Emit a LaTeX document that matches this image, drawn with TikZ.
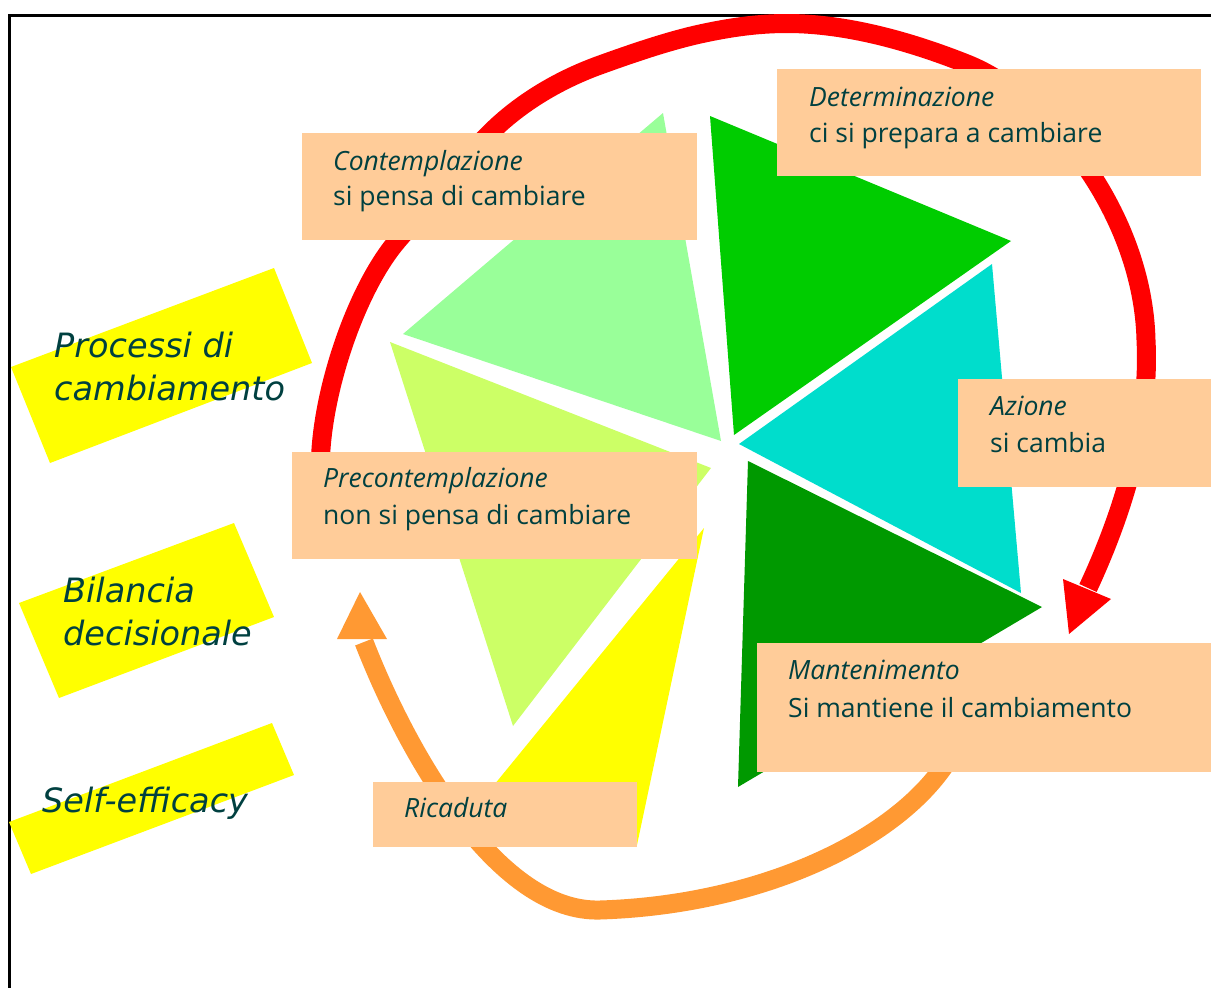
\documentclass[tikz,border=0pt]{standalone}
\usepackage{fontspec}
\setmainfont{Open Sans}
\newfontfamily\labfont{DejaVu Sans}
\usetikzlibrary{calc}
\definecolor{peach}{HTML}{FFCC99}
\definecolor{lgreen}{HTML}{99FF99}
\definecolor{mgreen}{HTML}{00CC00}
\definecolor{turq}{HTML}{00DDCC}
\definecolor{dgreen}{HTML}{009900}
\definecolor{ygreen}{HTML}{CCFF66}
\definecolor{yel}{HTML}{FFFF00}
\definecolor{redc}{HTML}{FF0000}
\definecolor{orangec}{HTML}{FF9933}
\definecolor{txt}{RGB}{0,64,64}
\tikzset{
  stagebox/.style={fill=peach, draw=none, inner sep=0pt, anchor=north west},
  stagetxt/.style={text=txt, inner sep=0pt, anchor=base west, font=\fontsize{26.5}{30}\selectfont},
  sidetxt/.style={text=txt, inner sep=0pt, anchor=base west, font=\labfont\itshape\fontsize{33.5}{38}\selectfont},
  redarc/.style={draw=redc, line width=19pt},
  orangearc/.style={draw=orangec, line width=19pt}
}
\begin{document}
\begin{tikzpicture}[x=1pt,y=-1pt]
\useasboundingbox (0,0) rectangle (1211,988);
% frame
\draw[line width=3pt] (9,988) -- (9,15) -- (1211,15);
% triangles
\fill[lgreen] (663,113) -- (403,334) -- (721,441) -- cycle;
\fill[mgreen] (710,116) -- (1011,241) -- (734,435) -- cycle;
\fill[turq] (739,444) -- (992,264) -- (1021,593) -- cycle;
\fill[dgreen] (748,461) -- (1042,607) -- (738,787) -- cycle;
\fill[ygreen] (390,342) -- (711,468) -- (513,726) -- cycle;
\fill[yel] (704,528) -- (637,845) -- (445,845) -- cycle;
% red cycle arrow
\coordinate (rs) at (319.7,472);
\coordinate (re) at (1088,588);
\draw[redarc] (rs) -- (321,449)
  .. controls (326,379) and (358.8,285.4) .. (398,240)
  .. controls (428.7,204.4) and (456.8,166.2) .. (490,133)
  .. controls (520.4,102.6) and (559.5,79.6) .. (600,65)
  .. controls (631,53.8) and (667.8,41.1) .. (700,34)
  .. controls (729.3,27.6) and (757,23.5) .. (787,23.5)
  .. controls (847,23.5) and (911,41.7) .. (967,64)
  .. controls (1050,97) and (1143,215) .. (1146,340)
  .. controls (1150,417) and (1128,502) .. (re);
\fill[redc] (1063,579) -- (1111,599) -- (1069,634) -- cycle;
% orange relapse arrow
\coordinate (os) at (950,757);
\coordinate (oe) at (364,642);
\draw[orangearc] (os) .. controls (900,840) and (760,905) .. (600,910)
  .. controls (500,913) and (410,760) .. (oe);
\fill[orangec] (337,639) -- (387,639) -- (360,592) -- cycle;
% stage boxes
\node[stagebox, minimum width=395pt, minimum height=107pt] (cont) at (302,133) {};
\node[stagetxt] (cont1) at ($(cont.north west)+(31,37)$) {\itshape Contemplazione};
\node[stagetxt] (cont2) at ($(cont.north west)+(31,72)$) {si pensa di cambiare};
\node[stagebox, minimum width=424pt, minimum height=107pt] (det) at (777,69) {};
\node[stagetxt] (det1) at ($(det.north west)+(32,37)$) {\itshape Determinazione};
\node[stagetxt] (det2) at ($(det.north west)+(32,73)$) {ci si prepara a cambiare};
\node[stagebox, minimum width=253pt, minimum height=108pt] (az) at (958,379) {};
\node[stagetxt] (az1) at ($(az.north west)+(32,36)$) {\itshape Azione};
\node[stagetxt] (az2) at ($(az.north west)+(32,73)$) {si cambia};
\node[stagebox, minimum width=405pt, minimum height=107pt] (pre) at (292,452) {};
\node[stagetxt] (pre1) at ($(pre.north west)+(31,35)$) {\itshape Precontemplazione};
\node[stagetxt] (pre2) at ($(pre.north west)+(31,72)$) {non si pensa di cambiare};
\node[stagebox, minimum width=454pt, minimum height=129pt] (man) at (757,643) {};
\node[stagetxt] (man1) at ($(man.north west)+(31,36)$) {\itshape Mantenimento};
\node[stagetxt] (man2) at ($(man.north west)+(31,74)$) {Si mantiene il cambiamento};
\node[stagebox, minimum width=264pt, minimum height=65pt] (ric) at (373,782) {};
\node[stagetxt] (ric1) at ($(ric.north west)+(31,35)$) {\itshape Ricaduta};
% side labels
\fill[yel] (11,367) -- (274,268) -- (312,363) -- (50,463) -- cycle;
\node[sidetxt] (proc1) at (54,357) {Processi di};
\node[sidetxt] (proc2) at (54,400) {cambiamento};
\fill[yel] (19,603) -- (234,523) -- (274,617) -- (59,698) -- cycle;
\node[sidetxt] (bil1) at (63,602) {Bilancia};
\node[sidetxt] (bil2) at (63,645) {decisionale};
\fill[yel] (9,822) -- (272,723) -- (294,775) -- (31,874) -- cycle;
\node[sidetxt] (self) at (42,812) {Self-efficacy};
\end{tikzpicture}
\end{document}
